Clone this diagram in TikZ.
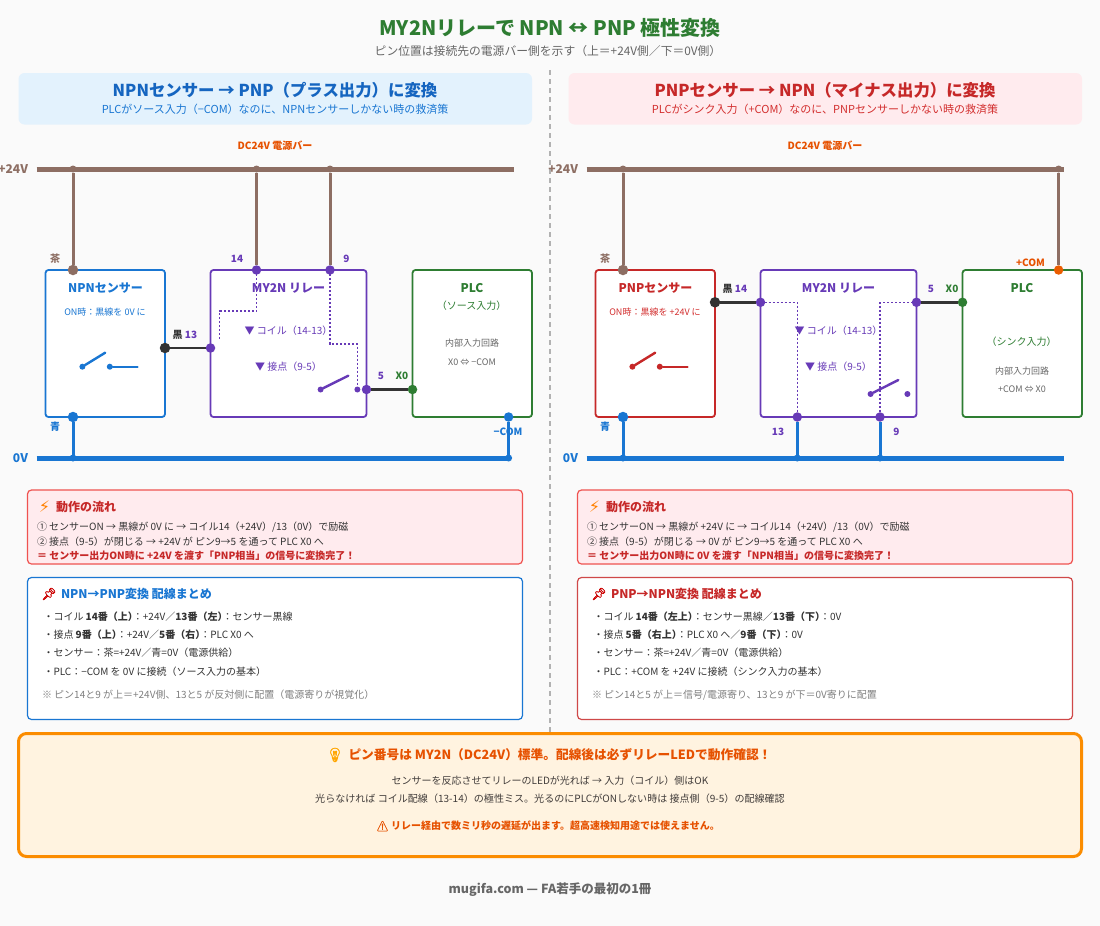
\documentclass[tikz,border=0pt]{standalone}
\usepackage{fontspec}
\usepackage{xcolor}
\setmainfont{Noto Sans CJK JP}
\newfontfamily\emojifont[FakeBold=1.5]{Noto Emoji}
\newfontfamily\symfont{DejaVu Sans}
\newcommand{\fs}[1]{\fontsize{#1}{#1}\selectfont}
\definecolor{pagebg}{HTML}{FAFAFA}
\definecolor{cbrown}{HTML}{8D6E63}
\definecolor{cblue}{HTML}{1976D2}
\definecolor{cdblue}{HTML}{1565C0}
\definecolor{cred}{HTML}{C62828}
\definecolor{clred}{HTML}{D32F2F}
\definecolor{cpurple}{HTML}{673AB7}
\definecolor{cgreen}{HTML}{2E7D32}
\definecolor{cblack}{HTML}{333333}
\definecolor{corange}{HTML}{E65100}
\definecolor{cgray}{HTML}{666666}
\definecolor{lblue}{HTML}{E3F2FD}
\definecolor{lred}{HTML}{FFEBEE}
\definecolor{lorange}{HTML}{FFF3E0}
\definecolor{mred}{HTML}{EF5350}
\definecolor{morange}{HTML}{FB8C00}
\tikzset{
	every node/.style={inner sep=0pt, outer sep=0pt},
	box/.style={rectangle, rounded corners=3pt, draw, fill=white, line width=1.8pt, minimum height=147pt},
	headbox/.style={rectangle, rounded corners=6pt, minimum width=513.5pt, minimum height=51.5pt},
	flowbox/.style={rectangle, rounded corners=4pt, draw=#1, line width=1.2pt, minimum width=495pt},
	bar/.style={line width=5pt},
	wire/.style={line width=3pt},
	blackwire/.style={line width=2.6pt, color=cblack},
	coilline/.style={line width=1.6pt, color=cpurple, dash pattern=on 2pt off 2pt},
	swline/.style={line width=2.4pt, line cap=round},
	pin/.style={circle, fill=#1, minimum size=9.5pt},
	tap/.style={circle, fill=#1, minimum size=7pt},
	swdot/.style={circle, fill=#1, minimum size=6pt},
	pinlbl/.style={font=\fs{10}\bfseries, text=#1},
	boxtitle/.style={font=\fs{12}\bfseries, text=#1},
	smalltxt/.style={font=\fs{9}, text=#1},
	linetxt/.style={font=\fs{10}, text=#1, anchor=west},
}
\begin{document}
\begin{tikzpicture}[x=1pt, y=-1pt]
	\useasboundingbox (0, 0) rectangle (1100, 926);
	\fill[pagebg] (0, 0) rectangle (1100, 926);

	\node[font=\fs{20}\bfseries, text=cgreen] (title) at (550, 28) {MY2Nリレーで NPN ↔ PNP 極性変換};
	\node[font=\fs{11.8}, text=cgray] (subtitle) at (548, 51) {ピン位置は接続先の電源バー側を示す（上＝+24V側／下＝0V側）};

	\coordinate (divtop) at (550, 70);
	\coordinate (divbot) at (550, 733);
	\draw[line width=1.5pt, color=black!30, dash pattern=on 5pt off 4pt] (divtop) -- (divbot);

	\begin{scope}[xshift=0pt, yshift=0pt]
		\node[headbox, fill=lblue] (lhead) at (275.25, 98.75) {};
		\node[font=\fs{16.4}\bfseries, text=cdblue] (lheadt) at (275, 90) {NPNセンサー → PNP（プラス出力）に変換};
		\node[font=\fs{11}, text=cblue] (lheads) at (275, 109) {PLCがソース入力（−COM）なのに、NPNセンサーしかない時の救済策};
		\node[font=\fs{10}\bfseries, text=corange] (lbarname) at (275, 145.5) {DC24V 電源バー};

		\node[font=\fs{12}\bfseries, text=cbrown, anchor=east] (lv24) at (28, 169) {+24V};
		\node[font=\fs{12}\bfseries, text=cblue, anchor=east] (lv0) at (28, 458) {0V};
		\coordinate (lp1) at (36.5, 169);
		\coordinate (lp2) at (513.5, 169);
		\coordinate (ln1) at (36.5, 458);
		\coordinate (ln2) at (509, 458);
		\draw[bar, color=cbrown] (lp1) -- (lp2);
		\draw[bar, color=cblue] (ln1) -- (ln2);

		\node[box, draw=cblue, minimum width=119.5pt] (lsen) at (105.25, 343.5) {};
		\node[box, draw=cpurple, minimum width=156pt] (lrel) at (288.5, 343.5) {};
		\node[box, draw=cgreen, minimum width=119.5pt] (lplc) at (472.25, 343.5) {};

		\node[boxtitle=cblue] (lsent) at (105.5, 288) {NPNセンサー};
		\node[smalltxt=cblue] (lsens) at (105, 312.5) {ON時：黒線を 0V に};
		\node[boxtitle=cpurple] (lrelt) at (288.5, 288) {MY2N リレー};
		\node[font=\fs{10}, text=cpurple] (lcoil) at (288.5, 331) {▼ コイル（14-13）};
		\node[font=\fs{10}, text=cpurple] (lcont) at (288.5, 367) {▼ 接点（9-5）};
		\node[boxtitle=cgreen] (lplct) at (472, 288) {PLC};
		\node[font=\fs{10}, text=cgreen] (lplcs) at (471.5, 306) {（ソース入力）};
		\node[smalltxt=cgray] (lplca) at (472, 343) {内部入力回路};
		\node[smalltxt=cgray] (lplcb) at (472, 362) {X0 ⇔ −COM};

		\node[tap=cbrown] (lt1) at (73, 169) {};
		\node[tap=cbrown] (lt2) at (256.5, 169) {};
		\node[tap=cbrown] (lt3) at (330, 169) {};
		\node[tap=cblue] (lt4) at (73, 458) {};
		\node[tap=cblue] (lt5) at (508.6, 458) {};
		\node[pin=cbrown, minimum size=10.5pt] (la1) at (73, 270) {};
		\node[pin=cblue, minimum size=10.5pt] (la2) at (73, 417) {};
		\node[pin=cblack, minimum size=10.5pt] (la3) at (165, 348) {};
		\node[pin=cpurple] (lb14) at (256.5, 270) {};
		\node[pin=cpurple] (lb9) at (330, 270) {};
		\node[pin=cpurple] (lb13) at (210.5, 348) {};
		\node[pin=cpurple] (lb5) at (366.5, 389.5) {};
		\node[pin=cgreen] (lcx) at (412.5, 389.5) {};
		\node[pin=cblue] (lcm) at (508.6, 417) {};

		% wiring of the left panel
		\draw[wire, color=cbrown] (lt1) -- (la1);
		\draw[wire, color=cbrown] (lt2) -- (lb14);
		\draw[wire, color=cbrown] (lt3) -- (lb9);
		\draw[wire, color=cblue] (la2) -- (lt4);
		\draw[wire, color=cblue] (lcm) -- (lt5);
		\draw[blackwire] (la3) -- (lb13);
		\draw[blackwire] (lb5) -- (lcx);

		\coordinate (lk13) at (219.6, 339);
		\coordinate (lk9) at (357.4, 385);
		\draw[coilline] (lb14.center) -- ++(0, 41) -| (lk13);
		\draw[coilline] (lb9.center) -- ++(0, 73.7) -| (lk9);

		\node[swdot=cblue] (ls1) at (82.4, 366.7) {};
		\coordinate (ls1e) at (105.2, 352.7);
		\node[swdot=cblue] (ls2) at (109.8, 366.7) {};
		\coordinate (ls2e) at (137.5, 366.7);
		\draw[swline, color=cblue] (ls1) -- (ls1e);
		\draw[swline, color=cblue] (ls2) -- (ls2e);
		\node[swdot=cpurple] (ls3) at (320.6, 389.5) {};
		\coordinate (ls3e) at (348.3, 375.7);
		\node[swdot=cpurple] (ls4) at (357.4, 389.5) {};
		\draw[swline, color=cpurple] (ls3) -- (ls3e);

		\node[pinlbl=cbrown] (lw1) at (55, 259) {茶};
		\node[pinlbl=cblue] (lw2) at (55, 427) {青};
		\node[pinlbl=cpurple] (ln14) at (237, 259) {14};
		\node[pinlbl=cpurple] (ln9) at (346.5, 259) {9};
		\node[pinlbl=cblack] (lw3) at (177.5, 335) {黒};
		\node[pinlbl=cpurple] (ln13) at (191, 335) {13};
		\node[pinlbl=cpurple] (ln5) at (381, 376) {5};
		\node[pinlbl=cgreen] (lnx) at (402, 376) {X0};
		\node[pinlbl=cblue] (lncom) at (508, 431.5) {−COM};

		\node[flowbox=mred, fill=lred, minimum height=74pt] (lflow) at (275, 527) {};
		\node[font=\symfont\fs{16}, text=orange] (lfe) at (44.5, 507) {⚡};
		\node[font=\fs{12}\bfseries, text=cred, anchor=west] (lft) at (56, 507) {動作の流れ};
		\node[linetxt=cblack] (lf1) at (37, 527) {① センサーON → 黒線が 0V に → コイル14（+24V）/13（0V）で励磁};
		\node[linetxt=cblack] (lf2) at (37, 541.7) {② 接点（9-5）が閉じる → +24V が ピン9→5 を通って PLC X0 へ};
		\node[linetxt=cred, font=\fs{10}\bfseries] (lf3) at (37, 555.7) {＝ センサー出力ON時に +24V を渡す「PNP相当」の信号に変換完了！};

		\node[flowbox=cblue, fill=white, minimum height=142pt] (lsum) at (275, 648.5) {};
		\node[font=\emojifont\fs{12}, text=red!80!black] (lse) at (49, 594) {📌};
		\node[font=\fs{12}\bfseries, text=cblue, anchor=west] (lst) at (61, 594) {NPN→PNP変換 配線まとめ};
		\node[linetxt=cblack] (ls5) at (43.5, 617) {・コイル \textbf{14番（上）}\kern-5pt：+24V／\textbf{13番（左）}\kern-5pt：センサー黒線};
		\node[linetxt=cblack] (ls6) at (43.5, 634.5) {・接点 \textbf{9番（上）}\kern-5pt：+24V／\textbf{5番（右）}\kern-5pt：PLC X0 へ};
		\node[linetxt=cblack] (ls7) at (43.5, 652.5) {・センサー：茶=+24V／青=0V（電源供給）};
		\node[linetxt=cblack] (ls8) at (43.5, 671.5) {・PLC：−COM を 0V に接続（ソース入力の基本）};
		\node[linetxt=gray] (ls9) at (42, 695) {※ ピン14と9 が上＝+24V側、13と5 が反対側に配置（電源寄りが視覚化）};
	\end{scope}

	\begin{scope}[xshift=550pt, yshift=0pt]
		\node[headbox, fill=lred] (rhead) at (275.25, 98.75) {};
		\node[font=\fs{16.4}\bfseries, text=cred] (rheadt) at (275, 90) {PNPセンサー → NPN（マイナス出力）に変換};
		\node[font=\fs{11}, text=clred] (rheads) at (275, 109) {PLCがシンク入力（+COM）なのに、PNPセンサーしかない時の救済策};
		\node[font=\fs{10}\bfseries, text=corange] (rbarname) at (275, 145.5) {DC24V 電源バー};

		\node[font=\fs{12}\bfseries, text=cbrown, anchor=east] (rv24) at (28, 169) {+24V};
		\node[font=\fs{12}\bfseries, text=cblue, anchor=east] (rv0) at (28, 458) {0V};
		\coordinate (rp1) at (36.5, 169);
		\coordinate (rp2) at (513.5, 169);
		\coordinate (rn1) at (36.5, 458);
		\coordinate (rn2) at (513.5, 458);
		\draw[bar, color=cbrown] (rp1) -- (rp2);
		\draw[bar, color=cblue] (rn1) -- (rn2);

		\node[box, draw=cred, minimum width=119.5pt] (rsen) at (105.25, 343.5) {};
		\node[box, draw=cpurple, minimum width=156pt] (rrel) at (288.5, 343.5) {};
		\node[box, draw=cgreen, minimum width=119.5pt] (rplc) at (472.25, 343.5) {};

		\node[boxtitle=cred] (rsent) at (105.5, 288) {PNPセンサー};
		\node[smalltxt=clred] (rsens) at (105, 312.5) {ON時：黒線を +24V に};
		\node[boxtitle=cpurple] (rrelt) at (288.5, 288) {MY2N リレー};
		\node[font=\fs{10}, text=cpurple] (rcoil) at (288.5, 331) {▼ コイル（14-13）};
		\node[font=\fs{10}, text=cpurple] (rcont) at (288.5, 367) {▼ 接点（9-5）};
		\node[boxtitle=cgreen] (rplct) at (472, 288) {PLC};
		\node[font=\fs{10}, text=cgreen] (rplcs) at (471.5, 342) {（シンク入力）};
		\node[smalltxt=cgray] (rplca) at (472, 371) {内部入力回路};
		\node[smalltxt=cgray] (rplcb) at (472, 389) {+COM ⇔ X0};

		\node[tap=cbrown] (rt1) at (73, 169) {};
		\node[tap=cbrown] (rt2) at (508.6, 169) {};
		\node[tap=cblue] (rt3) at (73, 458) {};
		\node[tap=cblue] (rt4) at (247.3, 458) {};
		\node[tap=cblue] (rt5) at (330, 458) {};
		\node[pin=cbrown, minimum size=10.5pt] (ra1) at (73, 270) {};
		\node[pin=cblue, minimum size=10.5pt] (ra2) at (73, 417) {};
		\node[pin=cblack, minimum size=10.5pt] (ra3) at (165, 302.3) {};
		\node[pin=cpurple] (rb14) at (210.5, 302.3) {};
		\node[pin=cpurple] (rb5) at (366.5, 302.3) {};
		\node[pin=cpurple] (rb13) at (247.3, 417) {};
		\node[pin=cpurple] (rb9) at (330, 417) {};
		\node[pin=cgreen] (rcx) at (412.5, 302.3) {};
		\node[pin=corange!80!morange] (rcm) at (508.6, 270) {};

		% wiring of the right panel
		\draw[wire, color=cbrown] (rt1) -- (ra1);
		\draw[wire, color=cbrown] (rt2) -- (rcm);
		\draw[wire, color=cblue] (ra2) -- (rt3);
		\draw[wire, color=cblue] (rb13) -- (rt4);
		\draw[wire, color=cblue] (rb9) -- (rt5);
		\draw[blackwire] (ra3) -- (rb14);
		\draw[blackwire] (rb5) -- (rcx);

		\draw[coilline] (rb14.center) -| (rb13.center);
		\draw[coilline] (rb5.center) -| (rb9.center);

		\node[swdot=cred] (rs1) at (82.4, 366.7) {};
		\coordinate (rs1e) at (105.2, 352.7);
		\node[swdot=cred] (rs2) at (109.8, 366.7) {};
		\coordinate (rs2e) at (137.5, 366.7);
		\draw[swline, color=cred] (rs1) -- (rs1e);
		\draw[swline, color=cred] (rs2) -- (rs2e);
		\node[swdot=cpurple] (rs3) at (320.6, 394) {};
		\coordinate (rs3e) at (348.3, 380);
		\node[swdot=cpurple] (rs4) at (357.4, 394) {};
		\draw[swline, color=cpurple] (rs3) -- (rs3e);

		\node[pinlbl=cbrown] (rw1) at (55, 259) {茶};
		\node[pinlbl=cblue] (rw2) at (55, 427) {青};
		\node[pinlbl=cblack] (rw3) at (177.5, 289) {黒};
		\node[pinlbl=cpurple] (rn14) at (191, 289) {14};
		\node[pinlbl=cpurple] (rn13) at (228, 431.5) {13};
		\node[pinlbl=cpurple] (rn9) at (346.5, 431.5) {9};
		\node[pinlbl=cpurple] (rn5) at (381, 289) {5};
		\node[pinlbl=cgreen] (rnx) at (402, 289) {X0};
		\node[pinlbl=corange] (rncom) at (480.5, 262.5) {+COM};

		\node[flowbox=mred, fill=lred, minimum height=74pt] (rflow) at (275, 527) {};
		\node[font=\symfont\fs{16}, text=orange] (rfe) at (44.5, 507) {⚡};
		\node[font=\fs{12}\bfseries, text=cred, anchor=west] (rft) at (56, 507) {動作の流れ};
		\node[linetxt=cblack] (rf1) at (37, 527) {① センサーON → 黒線が +24V に → コイル14（+24V）/13（0V）で励磁};
		\node[linetxt=cblack] (rf2) at (37, 541.7) {② 接点（9-5）が閉じる → 0V が ピン9→5 を通って PLC X0 へ};
		\node[linetxt=cred, font=\fs{10}\bfseries] (rf3) at (37, 555.7) {＝ センサー出力ON時に 0V を渡す「NPN相当」の信号に変換完了！};

		\node[flowbox=cred!85, fill=white, minimum height=142pt] (rsum) at (275, 648.5) {};
		\node[font=\emojifont\fs{12}, text=red!80!black] (rse) at (49, 594) {📌};
		\node[font=\fs{12}\bfseries, text=cred, anchor=west] (rst) at (61, 594) {PNP→NPN変換 配線まとめ};
		\node[linetxt=cblack] (rs5) at (43.5, 617) {・コイル \textbf{14番（左上）}\kern-5pt：センサー黒線／\textbf{13番（下）}\kern-5pt：0V};
		\node[linetxt=cblack] (rs6) at (43.5, 634.5) {・接点 \textbf{5番（右上）}\kern-5pt：PLC X0 へ／\textbf{9番（下）}\kern-5pt：0V};
		\node[linetxt=cblack] (rs7) at (43.5, 652.5) {・センサー：茶=+24V／青=0V（電源供給）};
		\node[linetxt=cblack] (rs8) at (43.5, 671.5) {・PLC：+COM を +24V に接続（シンク入力の基本）};
		\node[linetxt=gray] (rs9) at (42, 695) {※ ピン14と5 が上＝信号/電源寄り、13と9 が下＝0V寄りに配置};
	\end{scope}

	\node[rectangle, rounded corners=8pt, draw=morange, fill=lorange, line width=3pt, minimum width=1063pt, minimum height=123pt] (note) at (550, 795) {};
	\node[font=\emojifont\fs{14}, text=orange!70!yellow] (notee) at (335, 755) {💡};
	\node[font=\fs{12.7}\bfseries, text=corange, anchor=west] (notet) at (348.5, 755) {ピン番号は MY2N（DC24V）標準。配線後は必ずリレーLEDで動作確認！};
	\node[font=\fs{10}, text=cblack!85!cbrown] (note1) at (550, 780.5) {センサーを反応させてリレーのLEDが光れば → 入力（コイル）側はOK};
	\node[font=\fs{10.05}, text=cblack!85!cbrown] (note2) at (550, 798.5) {光らなければ コイル配線（13-14）の極性ミス。光るのにPLCがONしない時は 接点側（9-5）の配線確認};
	\node[font=\fs{10}\bfseries, text=corange] (note3) at (548, 826) {{\emojifont ⚠} リレー経由で数ミリ秒の遅延が出ます。超高速検知用途では使えません。};

	\node[font=\fs{12.5}\bfseries, text=cgray] (footer) at (550, 889.5) {mugifa.com — FA若手の最初の1冊};
\end{tikzpicture}
\end{document}
